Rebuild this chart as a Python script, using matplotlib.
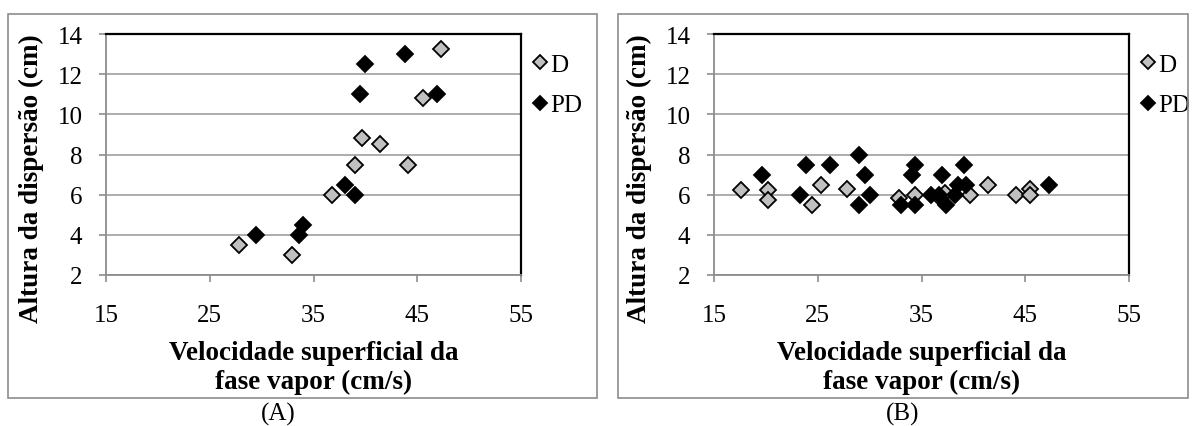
import matplotlib
matplotlib.use("Agg")
import matplotlib.pyplot as plt
from matplotlib.patches import Rectangle

# Panel A data
a_d_x = [27.8, 32.9, 36.8, 39.0, 39.7, 41.4, 44.1, 45.6, 47.3]
a_d_y = [3.5, 3.0, 6.0, 7.5, 8.8, 8.5, 7.5, 10.8, 13.25]
a_pd_x = [29.5, 33.6, 34.0, 38.0, 39.0, 39.5, 40.0, 43.8, 46.9]
a_pd_y = [4.0, 4.0, 4.5, 6.5, 6.0, 11.0, 12.5, 13.0, 11.0]

# Panel B data
b_d_x = [17.6, 20.2, 20.2, 24.4, 25.3, 27.8, 32.8, 34.4, 36.7, 37.3, 39.7, 41.4, 44.1, 45.5, 45.5]
b_d_y = [6.25, 6.25, 5.75, 5.5, 6.5, 6.3, 5.85, 6.0, 5.9, 6.1, 6.0, 6.5, 6.0, 6.3, 6.0]
b_pd_x = [19.6, 23.3, 23.9, 26.2, 29.0, 29.0, 29.6, 30.0, 33.0, 34.1, 34.4, 34.4,
          35.9, 36.7, 37.0, 37.4, 38.2, 38.5, 39.1, 39.3, 47.3]
b_pd_y = [7.0, 6.0, 7.5, 7.5, 8.0, 5.5, 7.0, 6.0, 5.5, 7.0, 7.5, 5.5,
          6.0, 6.0, 7.0, 5.5, 6.0, 6.5, 7.5, 6.5, 6.5]

x_ticks = [15, 25, 35, 45, 55]
y_ticks = [2, 4, 6, 8, 10, 12, 14]
series_names = ["D", "PD"]
xlabel = "Velocidade superficial da\nfase vapor (cm/s)"
ylabel = "Altura da dispersão (cm)"
panel_labels = ["(A)", "(B)"]

plt.rcParams['font.family'] = ['Liberation Serif', 'DejaVu Serif']

W, H = 1197, 427
fig = plt.figure(figsize=(W / 100, H / 100), dpi=100)

def fx(px):
    return px / W

def fy(py):
    return 1 - py / H

GRID = '#a6a6a6'
AXGRAY = '#8c8c8c'
GRAY_FILL = '#c0c0c0'

# outer boxes
for (x0, x1) in [(8, 597), (618, 1188)]:
    fig.patches.append(Rectangle((fx(x0), fy(399)), fx(x1 - x0), (399 - 15) / H,
                                 transform=fig.transFigure, fill=False,
                                 edgecolor=AXGRAY, linewidth=1.2))

panels = [
    (106, a_d_x, a_d_y, a_pd_x, a_pd_y, 278),
    (714, b_d_x, b_d_y, b_pd_x, b_pd_y, 903),
]

AX_W, AX_TOP, AX_BOT = 415, 35, 276

for i, (left, dx, dy, pdx, pdy, labx) in enumerate(panels):
    ax = fig.add_axes([fx(left), fy(AX_BOT), fx(AX_W), (AX_BOT - AX_TOP) / H])
    ax.set_xlim(15, 55)
    ax.set_ylim(2, 14)
    ax.set_xticks(x_ticks)
    ax.set_yticks(y_ticks)
    ax.set_xticklabels([str(t) for t in x_ticks], fontsize=18)
    ax.set_yticklabels([str(t) for t in y_ticks], fontsize=18)
    ax.yaxis.grid(True, color=GRID, linewidth=1.3)
    ax.set_axisbelow(True)
    for s in ['top', 'right']:
        ax.spines[s].set_color('black')
        ax.spines[s].set_linewidth(1.6)
    for s in ['left', 'bottom']:
        ax.spines[s].set_color(AXGRAY)
        ax.spines[s].set_linewidth(1.3)
    ax.tick_params(axis='both', direction='out', length=5, width=1.2,
                   color=AXGRAY, labelcolor='black')
    ax.tick_params(axis='x', pad=16)
    ax.tick_params(axis='y', pad=12)
    ax.plot(dx, dy, linestyle='none', marker='D', markersize=8.5,
            markerfacecolor=GRAY_FILL, markeredgecolor='black',
            markeredgewidth=1.3, label=series_names[0], clip_on=False)
    ax.plot(pdx, pdy, linestyle='none', marker='D', markersize=8.5,
            markerfacecolor='black', markeredgecolor='black',
            markeredgewidth=1.3, label=series_names[1], clip_on=False)
    ax.set_xlabel(xlabel, fontsize=19.5, fontweight='bold', linespacing=1.2,
                  va='center')
    ax.xaxis.set_label_coords(0.5, (AX_BOT - 368) / (AX_BOT - AX_TOP))
    ax.set_ylabel(ylabel, fontsize=19.5, fontweight='bold', va='center')
    ax.yaxis.set_label_coords((31 - 106) / AX_W, (AX_BOT - 179) / (AX_BOT - AX_TOP))
    ax.legend(loc='upper left', bbox_to_anchor=(1.021, 0.92), frameon=False,
              fontsize=18, handletextpad=0.03, borderaxespad=0, borderpad=0,
              labelspacing=0.72, handlelength=0.8, markerscale=0.85)
    fig.text(fx(labx), fy(414), panel_labels[i], ha='center', va='center',
             fontsize=18)

fig.savefig('out.png', dpi=100)
